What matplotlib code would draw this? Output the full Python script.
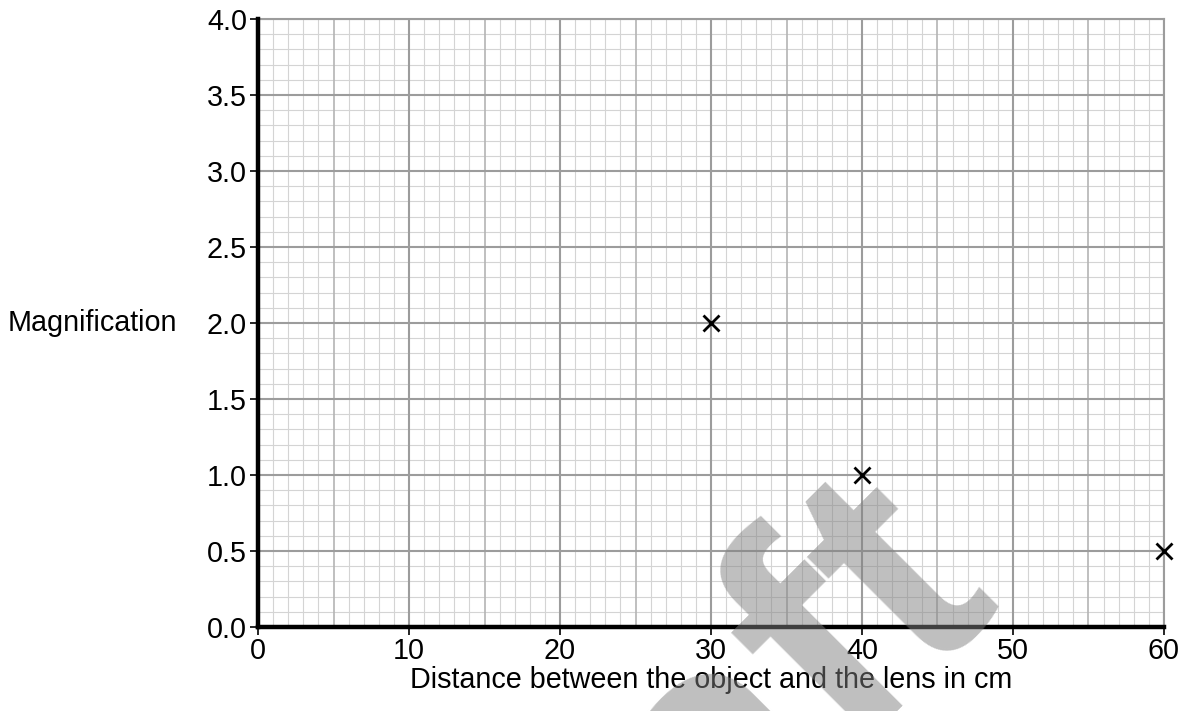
import matplotlib
matplotlib.use('Agg')
import matplotlib.pyplot as plt
import numpy as np

plt.rcParams['font.family'] = ['Liberation Sans', 'DejaVu Sans']

# data points
distance_cm = [30, 40, 60]
magnification = [2.0, 1.0, 0.5]

x_ticks = [0, 10, 20, 30, 40, 50, 60]
y_ticks = [0.0, 0.5, 1.0, 1.5, 2.0, 2.5, 3.0, 3.5, 4.0]

fig = plt.figure(figsize=(11.87, 7.11), dpi=100)
ax = fig.add_axes([0.2174, 0.1181, 0.7632, 0.8552])

xmin, xmax = 0, 60
ymin, ymax = 0, 4.0

# graph paper grid
minor_c, mid_c, major_c = '#d4d4d4', '#b4b4b4', '#9c9c9c'
for xv in np.arange(xmin, xmax + 0.01, 1):
    k = int(round(xv))
    if k % 10 == 0:
        ax.axvline(xv, color=major_c, lw=1.5, zorder=2)
    elif k % 5 == 0:
        ax.axvline(xv, color=mid_c, lw=1.2, zorder=1)
    else:
        ax.axvline(xv, color=minor_c, lw=0.8, zorder=0)
for yv in np.arange(ymin, ymax + 0.001, 0.1):
    k = int(round(yv * 10))
    if k % 5 == 0:
        ax.axhline(yv, color=major_c, lw=1.5, zorder=2)
    else:
        ax.axhline(yv, color=minor_c, lw=0.8, zorder=0)

ax.plot(distance_cm, magnification, linestyle='none', marker='x',
        markersize=11, markeredgewidth=2, color='black', zorder=5, clip_on=False)

ax.set_xlim(xmin, xmax)
ax.set_ylim(ymin, ymax)
ax.set_xticks(x_ticks)
ax.set_yticks(y_ticks)
ax.set_xticklabels([str(v) for v in x_ticks])
ax.set_yticklabels([f'{v:.1f}' for v in y_ticks])
ax.tick_params(axis='both', labelsize=20.7, length=6, width=1.2, direction='out', color='black')
ax.tick_params(axis='x', pad=1)
ax.tick_params(axis='y', pad=2)

for side in ['left', 'bottom']:
    ax.spines[side].set_linewidth(3.2)
    ax.spines[side].set_color('black')
    ax.spines[side].set_zorder(6)
for side in ['top', 'right']:
    ax.spines[side].set_linewidth(1.5)
    ax.spines[side].set_color(major_c)

ax.set_xlabel('Distance between the object and the lens in cm', fontsize=20.7, labelpad=1)
fig.text(8 / 1187, 1 - 323 / 711, 'Magnification', fontsize=20.7, ha='left', va='center')

# faint "draft" watermark
fig.text(1000 / 1187, 1 - 595 / 711, 'draft', fontsize=235, fontweight='bold',
         color='gray', alpha=0.5, rotation=45, rotation_mode='anchor',
         ha='right', va='baseline', zorder=10)

fig.savefig('out.png', dpi=100)
